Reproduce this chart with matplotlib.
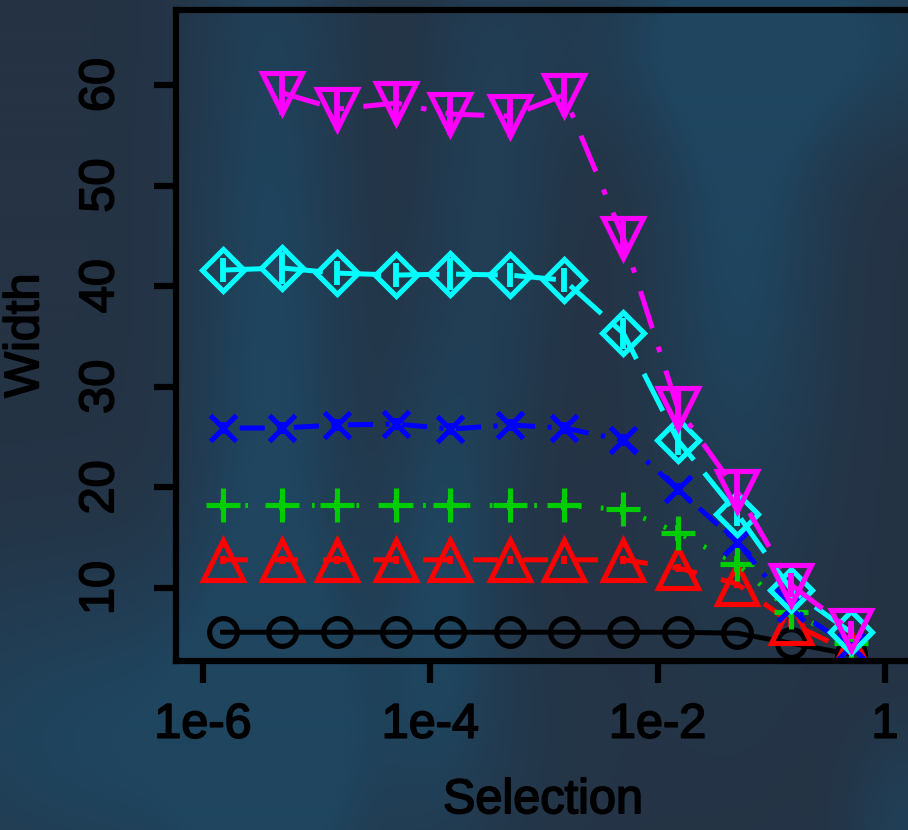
import numpy as np
import matplotlib
matplotlib.use('Agg')
import matplotlib.pyplot as plt
import matplotlib.patheffects as pe
from matplotlib.colors import LinearSegmentedColormap

plt.rcParams['font.family'] = ['Liberation Sans', 'DejaVu Sans']
plt.rcParams['lines.scale_dashes'] = False

# selection strengths (x) and widths per series
selection = [1.5e-6, 5e-6, 1.5e-5, 5e-5, 1.5e-4, 5e-4, 1.5e-3, 5e-3, 1.5e-2, 5e-2, 0.15, 0.5]

width_black = [5.6, 5.6, 5.6, 5.6, 5.6, 5.6, 5.6, 5.6, 5.6, 5.5, 4.5, 3.4]
width_red = [12.8, 12.8, 12.8, 12.8, 12.8, 12.8, 12.8, 12.8, 12.0, 10.4, 6.5, 3.6]
width_green = [18.2, 18.2, 18.2, 18.2, 18.2, 18.2, 18.2, 17.8, 15.5, 12.4, 7.6, 4.5]
width_blue = [25.9, 25.9, 26.2, 26.3, 25.8, 26.2, 25.9, 24.7, 19.8, 14.6, 8.0, 4.2]
width_cyan = [41.6, 41.8, 41.3, 41.1, 41.2, 41.1, 40.6, 35.3, 24.7, 17.4, 9.8, 5.6]
width_magenta = [np.nan, 59.2, 57.6, 58.2, 57.1, 56.9, 59.0, 44.8, 27.9, 19.6, 10.3, 5.8]

err_black = [0.2, 0.2, 0.2, 0.2, 0.2, 0.2, 0.2, 0.2, 0.2, 0.2, 0.2, 0.2]
err_red = [0.4, 0.4, 0.4, 0.4, 0.4, 0.4, 0.4, 0.4, 0.4, 0.4, 0.4, 0.3]
err_green = [0.5, 0.5, 0.5, 0.5, 0.5, 0.5, 0.5, 0.5, 0.8, 0.8, 0.5, 0.4]
err_blue = [0.6, 0.6, 0.6, 0.6, 0.6, 0.6, 0.6, 0.6, 0.6, 0.6, 0.5, 0.4]
err_cyan = [1.2, 1.6, 1.2, 1.2, 1.6, 1.2, 1.2, 1.5, 1.5, 1.2, 0.8, 0.6]
err_magenta = [np.nan, 2.2, 2.1, 2.1, 2.1, 2.1, 2.1, 2.0, 2.0, 1.8, 1.2, 0.9]

x_ticks = [1e-6, 1e-4, 1e-2, 1]
x_ticklabels = ['1e-6', '1e-4', '1e-2', '1']
y_ticks = [10, 20, 30, 40, 50, 60]

series = [
    (width_black, err_black, 'black', 'o', 20, '-', None),
    (width_red, err_red, '#ff0000', '^', 29, '--', (18, 18)),
    (width_green, err_green, '#00cd00', '+', 25, ':', (2, 14)),
    (width_blue, err_blue, '#0000ff', 'x', 19, '-.', (3, 9, 18, 9)),
    (width_cyan, err_cyan, '#00ffff', 'D', 21, '--', (30, 12)),
    (width_magenta, err_magenta, '#ff00ff', 'v', 29, '-.', (28, 14, 4, 14)),
]

fig = plt.figure(figsize=(9.08, 8.3), dpi=100)

# blurred dark-blue backdrop
bg_ax = fig.add_axes([0, 0, 1, 1], zorder=-1)
yy, xx = np.mgrid[0:830:2, 0:908:2]
blobs = [(270, 420, 55, 480, 1.0), (150, 740, 220, 120, 1.0), (490, 200, 45, 200, 0.6),
         (740, 220, 60, 240, 1.0), (790, 40, 150, 70, 1.0), (908, 830, 40, 70, 0.7),
         (440, 560, 40, 160, 0.8)]
field = np.zeros_like(xx, dtype=float)
for bx, by, sx, sy, a in blobs:
    field += a * np.exp(-((xx - bx) / sx) ** 2 / 2 - ((yy - by) / sy) ** 2 / 2)
field = np.clip(field, 0, 1)
cmap = LinearSegmentedColormap.from_list('bg', ['#253344', '#1f455f'])
bg_ax.imshow(field, cmap=cmap, aspect='auto', extent=[0, 1, 0, 1], origin='upper')
bg_ax.axis('off')

ax = fig.add_axes([176 / 908, 1 - 661 / 830, (910 - 176) / 908, (661 - 10.5) / 830])
ax.patch.set_alpha(0)

for vals, errs, col, mk, ms, ls, dash in series:
    ax.errorbar(selection, vals, yerr=errs, fmt='none', ecolor=col, elinewidth=4.2, capsize=0)
    line, = ax.plot(selection, vals, color=col, marker=mk, markersize=ms, markerfacecolor='none',
                    markeredgecolor=col, markeredgewidth=3.7, linewidth=3.6, linestyle=ls)
    if dash is not None:
        line.set_dashes(dash)

ax.set_xscale('log')
ax.set_xlim(10 ** -6.238, 10 ** 0.22)
ax.set_ylim(2.74, 67.4)
ax.set_xticks(x_ticks)
ax.set_xticklabels(x_ticklabels)
ax.xaxis.set_minor_locator(matplotlib.ticker.NullLocator())
ax.set_yticks(y_ticks)
ax.set_yticklabels([str(v) for v in y_ticks], rotation=90, va='center')

for s in ax.spines.values():
    s.set_linewidth(4.5)
    s.set_color('black')

ax.tick_params(axis='both', which='major', length=16, width=4.5, direction='out',
               labelsize=35, colors='black')
ax.tick_params(axis='x', pad=14)
ax.tick_params(axis='y', pad=22)

ax.set_xlabel('Selection', fontsize=35)
ax.set_ylabel('Width', fontsize=35)
ax.xaxis.set_label_coords(0.5, -0.18)
ax.yaxis.set_label_coords(-0.174, 0.5)

# slightly heavier strokes on the text
thick = [pe.withStroke(linewidth=1.3, foreground='black')]
for t in ax.get_xticklabels() + ax.get_yticklabels() + [ax.xaxis.label, ax.yaxis.label]:
    t.set_path_effects(thick)

fig.savefig('out.png', dpi=100)
